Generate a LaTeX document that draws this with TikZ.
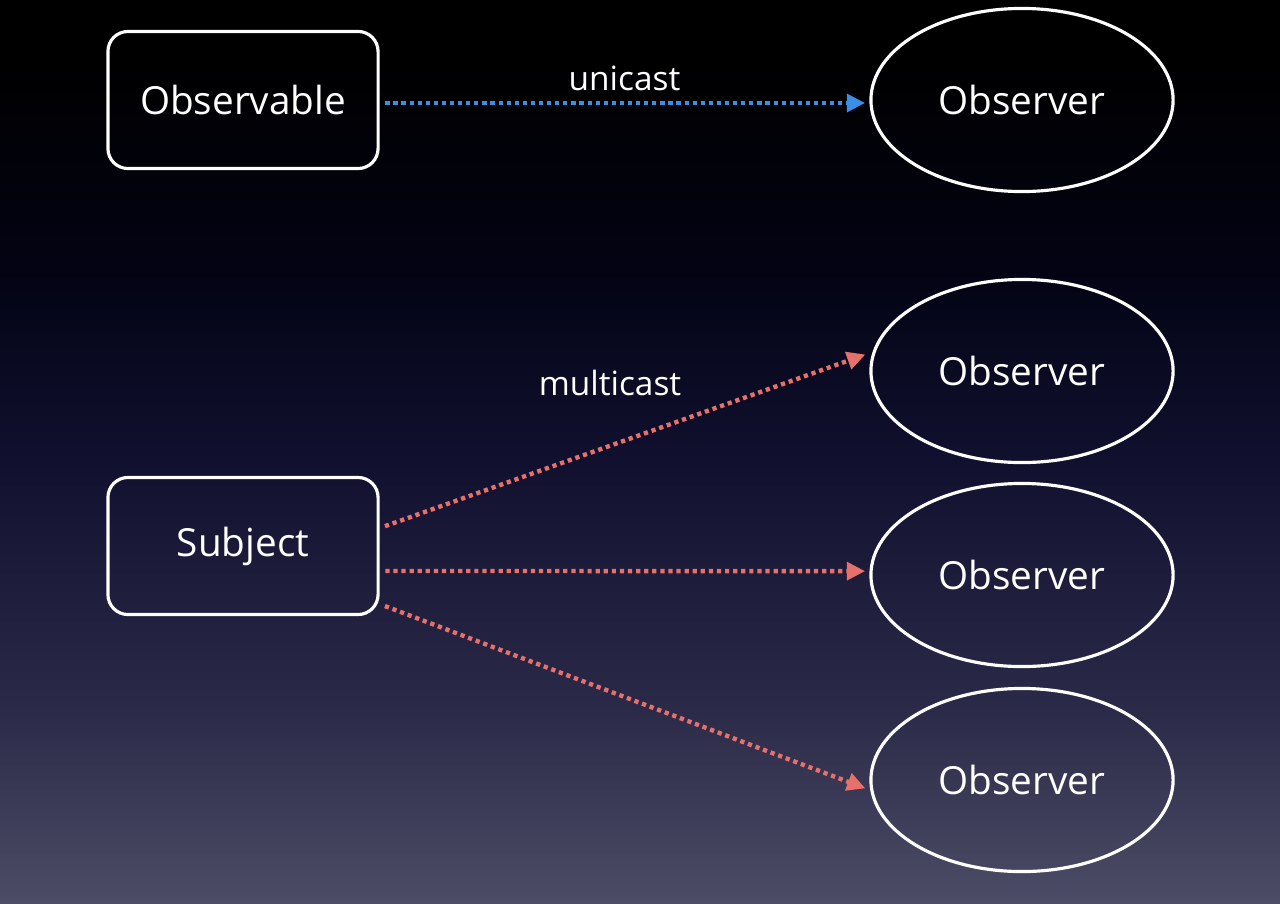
\documentclass[tikz,border=0pt]{standalone}
\usepackage{fontspec}
\setmainfont{Open Sans}
\usetikzlibrary{arrows.meta,shapes.geometric}
\definecolor{uniblue}{RGB}{58,142,230}
\definecolor{multired}{RGB}{232,112,106}
\definecolor{bgbot}{RGB}{76,76,102}
\definecolor{bglow}{RGB}{42,42,72}
\definecolor{bgmid}{RGB}{16,16,46}
\definecolor{bghigh}{RGB}{3,3,20}
\pgfdeclareverticalshading{nightsky}{100bp}{color(0bp)=(bgbot); color(25bp)=(bgbot); color(36bp)=(bglow); color(50bp)=(bgmid); color(60bp)=(bghigh); color(72bp)=(black); color(100bp)=(black)}
\begin{document}
\begin{tikzpicture}[x=0.01cm, y=-0.01cm, font=\fontsize{11}{13}\selectfont, line join=round, >={Triangle[length=5.2pt,width=5pt]},
  box/.style={draw=white, line width=0.9pt, rounded corners=5.7pt, minimum width=2.70cm, minimum height=1.37cm, inner sep=0pt, text=white},
  obs/.style={draw=white, ellipse, line width=0.9pt, minimum width=3.02cm, minimum height=1.83cm, inner sep=0pt, text=white},
  flow/.style={->, line width=1.25pt, dash pattern=on 1.2pt off 1.1pt, shorten <=1.6pt, shorten >=1.2pt},
  castlabel/.style={text=white, font=\fontsize{9.5}{11}\selectfont}]
\shade[shading=nightsky] (0,0) rectangle (1280,903);
\node[box] (obl) at (243,100) {Observable};
\node[box] (subj) at (243,546) {Subject};
\node[obs] (obs1) at (1022,100) {Observer};
\node[obs] (obs2) at (1022,371) {Observer};
\node[obs] (obs3) at (1022,575) {Observer};
\node[obs] (obs4) at (1022,780) {Observer};
\draw[flow, uniblue] ([yshift=-0.85pt]obl.east) -- ([yshift=-0.85pt]obs1.west) node[midway, above=-0.6pt, castlabel] (uni) {unicast};
\node[castlabel] (multi) at (610,383) {multicast};
\draw[flow, multired] ([yshift=5.1pt]subj.east) -- ([yshift=5.1pt]obs2.west);
\draw[flow, multired] ([yshift=-7.1pt]subj.east) -- ([yshift=1.1pt]obs3.west);
\draw[flow, multired] ([yshift=-16.5pt]subj.east) -- ([yshift=-2.8pt]obs4.west);
\end{tikzpicture}
\end{document}
